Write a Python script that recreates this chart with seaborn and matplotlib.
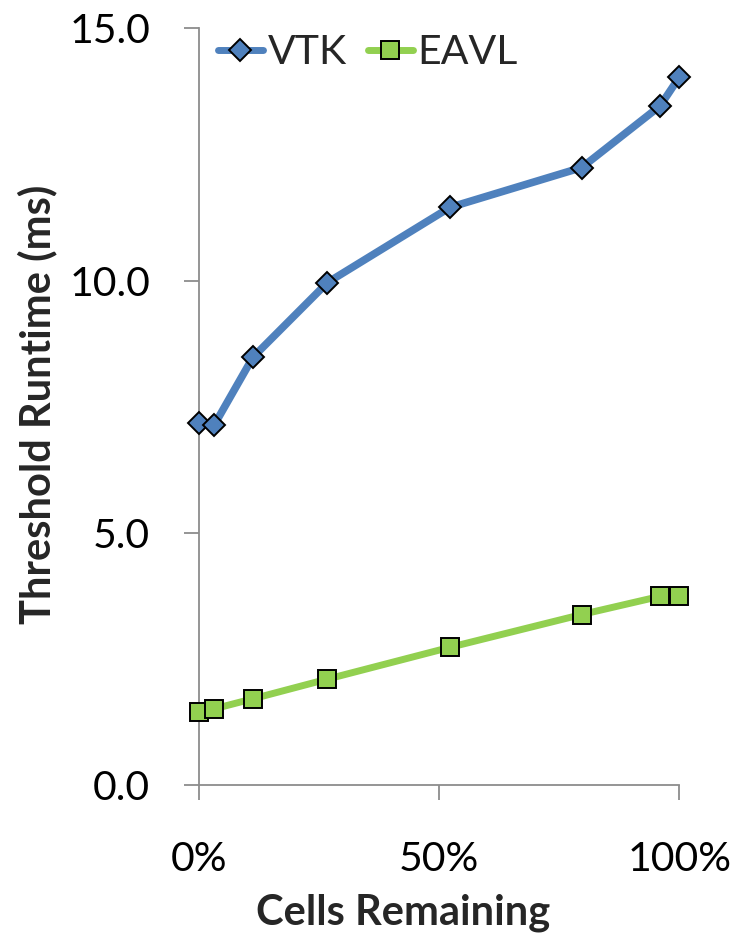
import matplotlib
matplotlib.use("Agg")
import matplotlib.pyplot as plt
import pandas as pd
import seaborn as sns
from matplotlib.ticker import FuncFormatter

# Fraction of cells kept by the threshold filter
cells_remaining = [0.0, 0.032, 0.113, 0.268, 0.523, 0.797, 0.960, 1.0]
# Runtime in milliseconds for each implementation
vtk_ms = [7.17, 7.13, 8.48, 9.96, 11.45, 12.24, 13.46, 14.03]
eavl_ms = [1.45, 1.51, 1.71, 2.10, 2.73, 3.38, 3.74, 3.74]

y_ticks = [0.0, 5.0, 10.0, 15.0]
x_ticks = [0.0, 0.5, 1.0]

sns.set_theme(style="white")
plt.rcParams["font.family"] = ["Lato", "DejaVu Sans"]

blue = "#4F81BD"
green = "#92D050"
axis_grey = "#8C8C8C"

fig = plt.figure(figsize=(7.52, 9.33), dpi=100)
ax = fig.add_axes([0.2642, 0.1586, 0.9033 - 0.2642, 0.9697 - 0.1586])

df_vtk = pd.DataFrame({"cells": cells_remaining, "ms": vtk_ms})
df_eavl = pd.DataFrame({"cells": cells_remaining, "ms": eavl_ms})

sns.lineplot(data=df_vtk, x="cells", y="ms", ax=ax, color=blue, linewidth=5.5,
             marker="D", markersize=11, markerfacecolor=blue,
             markeredgecolor="black", markeredgewidth=1.4, label="VTK",
             clip_on=False, zorder=3)
sns.lineplot(data=df_eavl, x="cells", y="ms", ax=ax, color=green, linewidth=5.0,
             marker="s", markersize=13, markerfacecolor=green,
             markeredgecolor="black", markeredgewidth=1.4, label="EAVL",
             clip_on=False, zorder=3)

ax.set_xlim(0, 1)
ax.set_ylim(0, 15)
ax.set_xticks(x_ticks)
ax.set_yticks(y_ticks)
ax.xaxis.set_major_formatter(FuncFormatter(lambda v, _: f"{v:.0%}"))
ax.yaxis.set_major_formatter(FuncFormatter(lambda v, _: f"{v:.1f}"))

for side in ("top", "right"):
    ax.spines[side].set_visible(False)
for side in ("left", "bottom"):
    ax.spines[side].set_color(axis_grey)
    ax.spines[side].set_linewidth(1.3)

ax.tick_params(axis="both", which="major", direction="out", length=11,
               width=1.3, color=axis_grey, labelsize=29.5, labelcolor="black")
ax.tick_params(axis="x", pad=29, bottom=True)
ax.tick_params(axis="y", pad=24, left=True)

ax.set_xlabel("Cells Remaining", fontsize=30, fontweight="bold")
ax.set_ylabel("Threshold Runtime (ms)", fontsize=30, fontweight="bold")
ax.xaxis.set_label_coords(0.425, -0.143)
ax.yaxis.set_label_coords(-0.294, 0.503)

leg = ax.legend(loc="center left", bbox_to_anchor=(0.040, 0.968), ncol=2,
                frameon=False, fontsize=29.5, handlelength=1.1,
                handletextpad=0.12, columnspacing=0.5, borderaxespad=0,
                borderpad=0)
for line in leg.get_lines():
    line.set_linewidth(5)

fig.savefig("out.png", dpi=100)
